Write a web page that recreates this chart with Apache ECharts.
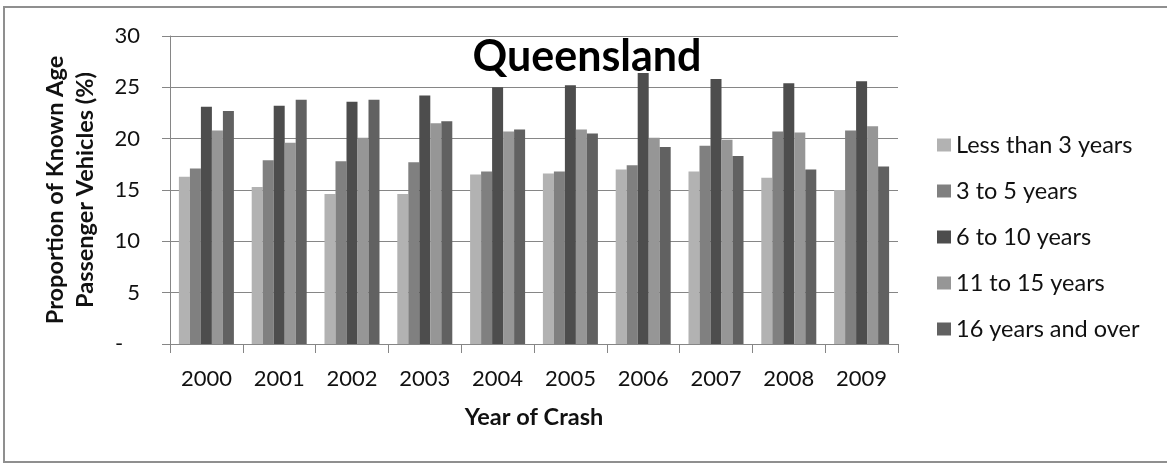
<!DOCTYPE html>
<html>
<head>
<meta charset="utf-8">
<script src="https://cdn.jsdelivr.net/npm/echarts@6/dist/echarts.min.js"></script>
<style>
html,body{margin:0;padding:0;background:#fff;}
#c{width:1167px;height:464px;}
</style>
</head>
<body>
<div id="c"></div>
<script>
const years = ['2000','2001','2002','2003','2004','2005','2006','2007','2008','2009'];
const seriesNames = ['Less than 3 years','3 to 5 years','6 to 10 years','11 to 15 years','16 years and over'];
const lessThan3 = [16.3, 15.3, 14.6, 14.6, 16.5, 16.6, 17.0, 16.8, 16.2, 15.0];
const from3to5 = [17.1, 17.9, 17.8, 17.7, 16.8, 16.8, 17.4, 19.3, 20.7, 20.8];
const from6to10 = [23.1, 23.2, 23.6, 24.2, 25.0, 25.2, 26.4, 25.8, 25.4, 25.6];
const from11to15 = [20.8, 19.6, 20.1, 21.5, 20.7, 20.9, 20.1, 19.9, 20.6, 21.2];
const over16 = [22.7, 23.8, 23.8, 21.7, 20.9, 20.5, 19.2, 18.3, 17.0, 17.3];
const yTicks = [0, 5, 10, 15, 20, 25, 30];

const colors = ['#b2b2b2', '#808080', '#4d4d4d', '#969696', '#616161'];
const allData = [lessThan3, from3to5, from6to10, from11to15, over16];
const FONT = 'Lato';

const chart = echarts.init(document.getElementById('c'), null, {renderer: 'canvas'});
chart.setOption({
  animation: false,
  backgroundColor: '#ffffff',
  textStyle: {fontFamily: FONT},
  grid: {left: 170, top: 36, width: 728, height: 308, containLabel: false},
  legend: {
    orient: 'vertical',
    left: 932,
    top: 128,
    padding: 5,
    itemWidth: 14,
    itemHeight: 13,
    itemGap: 22,
    icon: 'rect',
    textStyle: {fontFamily: FONT, fontSize: 23.5, color: '#111', lineHeight: 24},
    data: seriesNames
  },
  xAxis: {
    type: 'category',
    data: years,
    axisLine: {lineStyle: {color: '#868686', width: 1}},
    axisTick: {show: true, length: 9, lineStyle: {color: '#868686'}},
    axisLabel: {fontFamily: FONT, fontSize: 22, color: '#111', margin: 24}
  },
  yAxis: {
    type: 'value',
    min: yTicks[0],
    max: yTicks[yTicks.length - 1],
    interval: yTicks[1] - yTicks[0],
    axisLine: {show: true, lineStyle: {color: '#868686', width: 1}},
    axisTick: {show: true, length: 8, lineStyle: {color: '#868686'}},
    splitLine: {show: true, lineStyle: {color: '#868686', width: 1}},
    axisLabel: {
      fontFamily: FONT, fontSize: 22, color: '#111', margin: 30,
      formatter: function (v) { return v === 0 ? '-   ' : String(v); }
    }
  },
  series: seriesNames.map(function (n, i) {
    return {
      name: n,
      type: 'bar',
      data: allData[i],
      barWidth: 11,
      barGap: '0%',
      itemStyle: {color: colors[i]}
    };
  }),
  graphic: [
    {
      type: 'rect',
      shape: {x: 4, y: 7, width: 1175, height: 455},
      style: {fill: 'none', stroke: '#8f8f8f', lineWidth: 2},
      z: 100
    },
    {
      type: 'text',
      x: 587, y: 57,
      style: {text: 'Queensland', fontFamily: FONT, fontWeight: 'bold', fontSize: 43, fill: '#000', textAlign: 'center', textVerticalAlign: 'middle'},
      z: 100
    },
    {
      type: 'text',
      x: 534, y: 417,
      style: {text: 'Year of Crash', fontFamily: FONT, fontWeight: 'bold', fontSize: 23.5, fill: '#111', textAlign: 'center', textVerticalAlign: 'middle'},
      z: 100
    },
    {
      type: 'text',
      x: 70, y: 190,
      rotation: Math.PI / 2,
      style: {text: 'Proportion of Known Age\nPassenger Vehicles (%)', fontFamily: FONT, fontWeight: 'bold', fontSize: 23.5, lineHeight: 30, fill: '#111', textAlign: 'center', textVerticalAlign: 'middle'},
      z: 100
    }
  ]
});
</script>
</body>
</html>
